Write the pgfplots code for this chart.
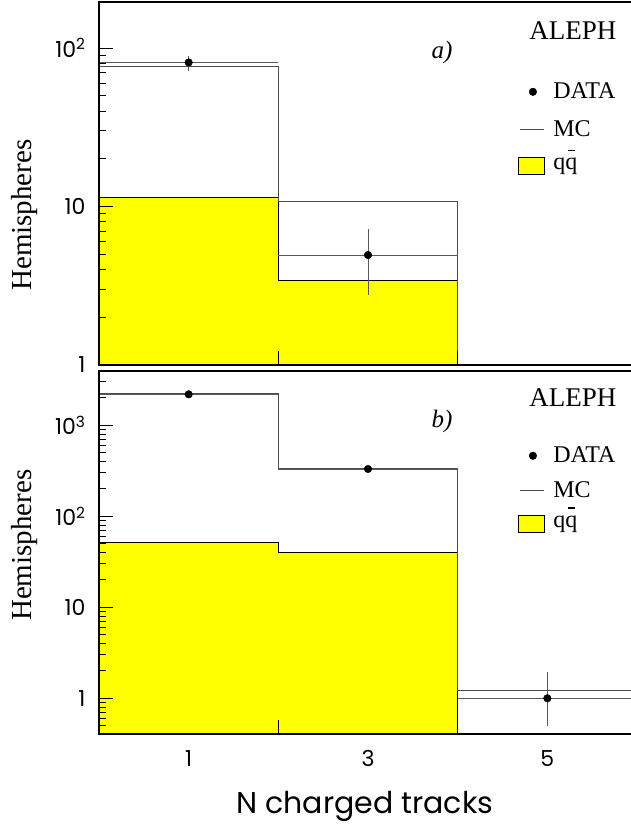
\documentclass[border=0pt]{standalone}
\usepackage{fontspec}
\setmainfont{Liberation Serif}
\newfontfamily\poppins{Poppins}
\usepackage{pgfplots}
\pgfplotsset{compat=1.18}
\definecolor{histline}{gray}{0.3}
\definecolor{errline}{gray}{0.35}
\definecolor{qqyellow}{RGB}{255,255,0}
\newcommand{\qqbar}{q\makebox[0pt][l]{\hspace{0.12em}\smash{\rule[0.78em]{0.3em}{0.05em}}}q}
\pgfplotsset{
  alephaxis/.style={
    scale only axis, width=538pt, height=363pt,
    xmin=0, xmax=6,
    axis on top,
    axis line style={line width=1.1pt},
    xtick={2,4}, xticklabels={,},
    xtick pos=bottom, ytick pos=left,
    major tick length=14pt, minor tick length=7pt,
    tick style={black, line width=0.8pt},
    tick align=inside,
    yticklabel style={font=\poppins\fontsize{22}{22}\selectfont, xshift=-10pt},
    xticklabel style={font=\poppins\fontsize{22}{22}\selectfont},
    ylabel={Hemispheres},
    ylabel style={font=\fontsize{29}{29}\selectfont, anchor=center},
    legend style={draw=none, fill=none, font=\fontsize{24}{24}\selectfont,
      anchor=north west, row sep=16pt,
      /tikz/every odd column/.append style={column sep=7pt}},
    legend cell align=left,
  },
  alephdataimg/.style={legend image code/.code={\fill[black] (15pt,0pt) circle (3.8pt);}},
  alephmcimg/.style={legend image code/.code={\draw[histline, line width=0.9pt] (2pt,0pt) -- (26pt,0pt);}},
  alephqqimg/.style={legend image code/.code={\draw[fill=qqyellow, line width=0.8pt] (0pt,-10pt) rectangle (26pt,7pt);}},
}
\begin{document}
\begin{tikzpicture}
% ---------------- top panel a)
\begin{axis}[ymode=log, alephaxis, at={(99pt,459pt)}, anchor=south west,
  ymin=1, ymax=195,
  ytick={1,10,100}, yticklabels={1,10,10\textsuperscript{2}},
  minor ytick={2,3,4,5,6,7,8,9,20,30,40,50,60,70,80,90},
  ylabel style={at={(axis description cs:-0.139,0.413)}},
  legend style={at={(axis description cs:0.772,0.788)}},
]
\addlegendimage{alephdataimg}\addlegendentry{DATA}
\addlegendimage{alephmcimg}\addlegendentry{MC}
\addlegendimage{alephqqimg}\addlegendentry{\qqbar}
\addplot[const plot, fill=qqyellow, draw=black, line width=0.8pt, forget plot]
  coordinates {(0,0.01) (0,11.4) (2,3.4) (4,3.4) (4,0.01)};
\addplot[const plot, histline, line width=0.9pt, forget plot]
  coordinates {(0,76) (2,10.7) (4,10.7) (4,0.01)};
\addplot[only marks, mark=*, mark size=3.8pt, black, forget plot,
  error bars/.cd, x dir=both, x fixed=1,
  error mark=none, error bar style={errline, line width=0.9pt}]
  coordinates {(1,81) (3,4.94)};
\addplot[only marks, mark=none, forget plot,
  error bars/.cd, y dir=both, y explicit,
  error mark=none, error bar style={errline, line width=0.9pt}]
  coordinates {(1,81) += (0,8.4) -= (0,9.1) (3,4.94) += (0,2.26) -= (0,2.18)};
\node[font=\fontsize{27}{27}\selectfont] at (axis description cs:0.881,0.920) {ALEPH};
\node[font=\itshape\fontsize{25}{25}\selectfont] at (axis description cs:0.6375,0.862) {a)};
\end{axis}
% ---------------- bottom panel b)
\begin{axis}[ymode=log, alephaxis, at={(99pt,90pt)}, anchor=south west,
  ymin=0.405, ymax=3950,
  ytick={1,10,100,1000}, yticklabels={1,10,10\textsuperscript{2},10\textsuperscript{3}},
  minor ytick={0.5,0.6,0.7,0.8,0.9,2,3,4,5,6,7,8,9,20,30,40,50,60,70,80,90,200,300,400,500,600,700,800,900,2000,3000},
  extra x ticks={1,3,5}, extra x tick labels={1,3,5},
  extra x tick style={major tick length=0pt, xticklabel style={font=\poppins\fontsize{22}{22}\selectfont, yshift=-13pt}},
  xlabel={N charged tracks},
  xlabel style={font=\poppins\fontsize{30}{30}\selectfont, at={(axis description cs:0.494,-0.218)}, anchor=base},
  ylabel style={at={(axis description cs:-0.139,0.52)}},
  legend style={at={(axis description cs:0.772,0.802)}, row sep=13pt},
]
\addlegendimage{alephdataimg}\addlegendentry{DATA}
\addlegendimage{alephmcimg}\addlegendentry{MC}
\addlegendimage{alephqqimg}\addlegendentry{\qqbar}
\addplot[const plot, fill=qqyellow, draw=black, line width=0.8pt, forget plot]
  coordinates {(0,0.01) (0,52) (2,40) (4,40) (4,0.01)};
\addplot[const plot, histline, line width=0.9pt, forget plot]
  coordinates {(0,2224) (2,333) (4,1.23) (6,1.23)};
\addplot[only marks, mark=*, mark size=3.8pt, black, forget plot,
  error bars/.cd, x dir=both, x fixed=1,
  error mark=none, error bar style={errline, line width=0.9pt}]
  coordinates {(1,2190) (3,331) (5,1)};
\addplot[only marks, mark=none, forget plot,
  error bars/.cd, y dir=both, y explicit,
  error mark=none, error bar style={errline, line width=0.9pt}]
  coordinates {(1,2190) += (0,47) -= (0,47) (3,331) += (0,18) -= (0,18) (5,1) += (0,0.96) -= (0,0.5)};
\node[font=\fontsize{27}{27}\selectfont] at (axis description cs:0.881,0.928) {ALEPH};
\node[font=\itshape\fontsize{25}{25}\selectfont] at (axis description cs:0.6375,0.862) {b)};
\end{axis}
\pgfresetboundingbox
\path[use as bounding box] (0pt,0pt) rectangle (631pt,824pt);
\end{tikzpicture}
\end{document}
